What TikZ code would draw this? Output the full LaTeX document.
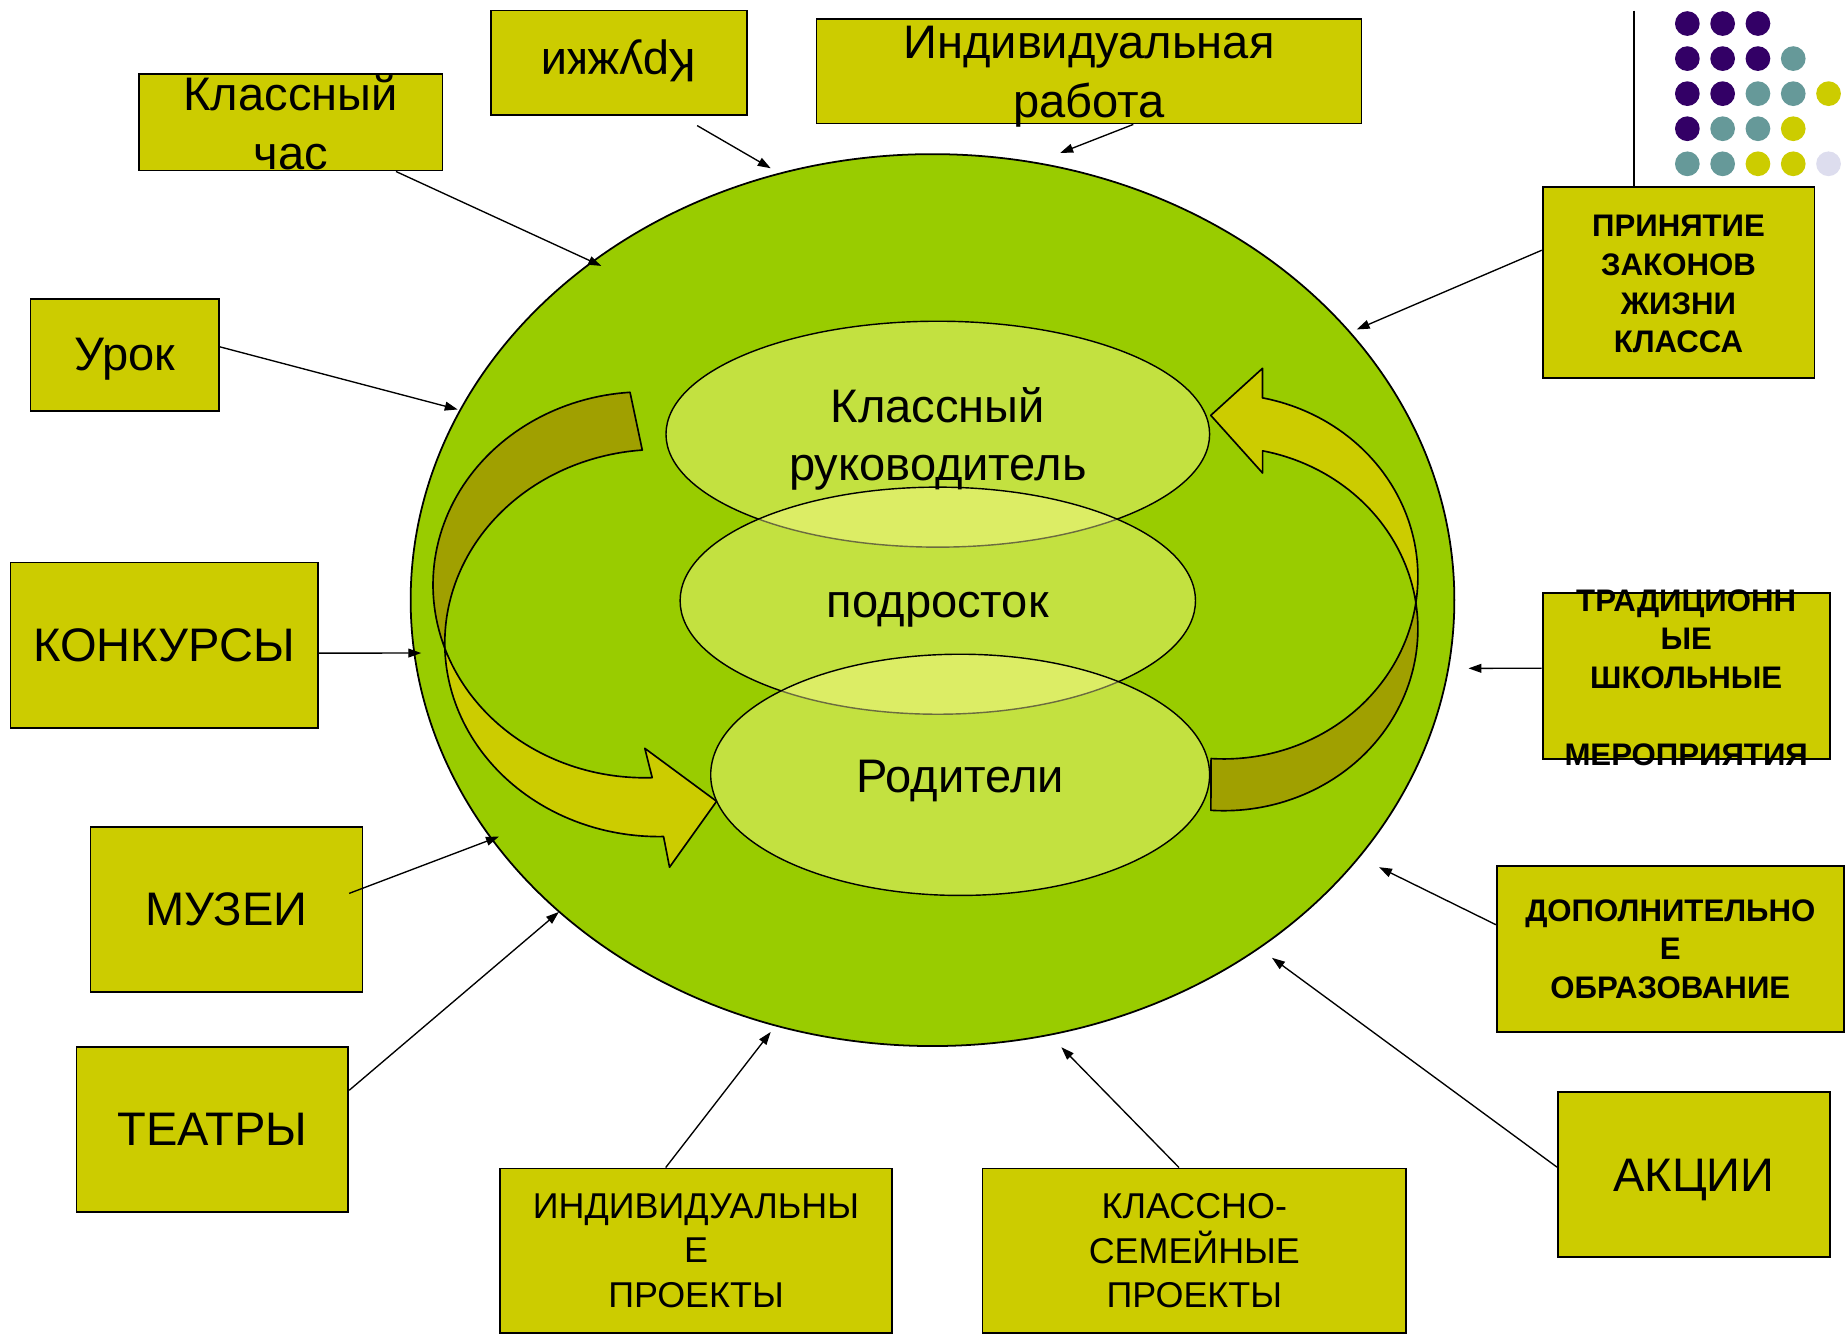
\documentclass[tikz,border=0pt]{standalone}
\usepackage{graphicx}
\usepackage{fontspec}
\setmainfont{Liberation Sans}
\usetikzlibrary{shapes.geometric,arrows.meta,calc}
\definecolor{bggreen}{HTML}{99CC00}
\definecolor{boxy}{HTML}{CCCC00}
\definecolor{darkol}{HTML}{A0A000}
\definecolor{paley}{HTML}{FFFF99}
\definecolor{dpurple}{HTML}{330066}
\definecolor{dteal}{HTML}{669999}
\definecolor{dlav}{HTML}{DDDDEE}
\begin{document}
\begin{tikzpicture}[x=1pt,y=-1pt,
  box/.style={draw=black, line width=1.5pt, fill=boxy, rectangle, inner sep=0pt, align=center, text=black},
  ftext/.style={font=\fontsize{40}{50}\selectfont},
  fmid/.style={font=\fontsize{30.5}{38}\selectfont},
  fbold/.style={font=\fontsize{26.5}{32.8}\selectfont\bfseries},
  lbl/.style={inner sep=0pt, align=center, text=black},
  inell/.style={ellipse, draw=black, line width=1.2pt, fill=paley, fill opacity=0.42, inner sep=0pt},
  conn/.style={draw=black, line width=1.15pt, -{Triangle[length=11pt,width=7.5pt]}},
  arrdark/.style={fill=darkol, draw=black, line width=1.4pt, line join=round},
  arrlight/.style={fill=boxy, draw=black, line width=1.4pt, line join=round}
]
\fill[white] (0,0) rectangle (1568,1139);
\useasboundingbox (0,0) rectangle (1568,1139);

% big ellipse
\node[ellipse, draw=black, line width=1.5pt, fill=bggreen, inner sep=0pt,
      minimum width=887pt, minimum height=758pt] (big) at (792.5,510) {};

% left curved arrow
\filldraw[arrdark]
  plot[domain=0:1, samples=60] ({548+180*cos(266+(161.15-266)*\x)}, {497+164*sin(266+(161.15-266)*\x)})
  -- plot[domain=0:1, samples=60] ({560+182*cos(178.8+(265.6-178.8)*\x)}, {546.5+164.5*sin(178.8+(265.6-178.8)*\x)})
  -- cycle;
\filldraw[arrlight]
  plot[domain=0:1, samples=60] ({560+182*cos(178.8+(88.7-178.8)*\x)}, {546.5+164.5*sin(178.8+(88.7-178.8)*\x)})
  -- (569,737) -- (609,681) -- (548,636)
  -- plot[domain=0:1, samples=60] ({548+180*cos(88+(161.15-88)*\x)}, {497+164*sin(88+(161.15-88)*\x)})
  -- cycle;

% right curved arrow
\filldraw[arrlight]
  plot[domain=0:1, samples=60] ({1040+165*cos(281.5+(368.16-281.5)*\x)}, {490+155*sin(281.5+(368.16-281.5)*\x)})
  -- plot[domain=0:1, samples=60] ({1040+165*cos(351.63+(281.5-351.63)*\x)}, {534.5+154.5*sin(351.63+(281.5-351.63)*\x)})
  -- (1073,402) -- (1029,353) -- (1073,313) -- cycle;
\filldraw[arrdark]
  plot[domain=0:1, samples=60] ({1040+165*cos(8.16+(93.8-8.16)*\x)}, {490+155*sin(8.16+(93.8-8.16)*\x)})
  -- plot[domain=0:1, samples=60] ({1040+165*cos(93.8+(-8.37-93.8)*\x)}, {534.5+154.5*sin(93.8+(-8.37-93.8)*\x)})
  -- cycle;

% inner ellipses
\node[inell, minimum width=462pt, minimum height=192pt] (ruk) at (797,369) {};
\node[inell, minimum width=438pt, minimum height=193pt] (podr) at (797,510.5) {};
\node[inell, minimum width=424pt, minimum height=205pt] (rod) at (816,658.5) {};
\node[lbl, ftext] (rukt) at ([yshift=-4pt]ruk.center) {Классный\\руководитель};
\node[lbl, ftext] (podrt) at ([yshift=-7.5pt]podr.center) {подросток};
\node[lbl, ftext] (rodt) at ([yshift=-5pt]rod.center) {Родители};

% boxes
\node[box, ftext, minimum width=258pt, minimum height=82pt] (klchas) at (247,104) {Классный\\час};
\node[box, minimum width=218pt, minimum height=89pt] (kruzhki) at (526,53.5) {};
\node[lbl, ftext] (kruzhkit) at ([yshift=2pt]kruzhki.center) {\rotatebox{180}{Кружки}};
\node[box, minimum width=463pt, minimum height=89pt] (indrab) at (925.5,60.5) {};
\node[lbl, ftext] (indrabt) at ([yshift=-5pt]indrab.center) {Индивидуальная\\работа};
\node[box, minimum width=160pt, minimum height=95pt] (urok) at (106,301.5) {};
\node[lbl, ftext] (urokt) at ([yshift=-4pt]urok.center) {Урок};
\node[box, ftext, minimum width=261pt, minimum height=141pt] (konk) at (139.5,548.5) {КОНКУРСЫ};
\node[box, ftext, minimum width=231pt, minimum height=140pt] (muzei) at (192.5,773) {МУЗЕИ};
\node[box, ftext, minimum width=231pt, minimum height=140pt] (teatr) at (180.5,960) {ТЕАТРЫ};
\node[box, fmid, minimum width=333pt, minimum height=140pt] (indpr) at (591.5,1063) {ИНДИВИДУАЛЬНЫ\\Е\\ПРОЕКТЫ};
\node[box, fmid, minimum width=360pt, minimum height=140pt] (klsem) at (1015,1063) {КЛАССНО-\\СЕМЕЙНЫЕ\\ПРОЕКТЫ};
\node[box, minimum width=231pt, minimum height=140pt] (akcii) at (1439.5,998) {};
\node[lbl, ftext] (akciit) at ([yshift=-4.5pt]akcii.center) {АКЦИИ};
\node[box, fbold, minimum width=295pt, minimum height=141pt] (dopobr) at (1419.5,806.5) {ДОПОЛНИТЕЛЬНО\\Е\\ОБРАЗОВАНИЕ};
\node[box, minimum width=244pt, minimum height=141pt] (trad) at (1433,574.5) {};
\node[lbl, fbold] (tradt) at ([yshift=-1.5pt]trad.center) {ТРАДИЦИОНН\\ЫЕ\\ШКОЛЬНЫЕ\\\mbox{}\\МЕРОПРИЯТИЯ};
\node[box, minimum width=231pt, minimum height=162pt] (prin) at (1426.5,240) {};
\node[lbl, fbold] (print) at ([yshift=-1.5pt]prin.center) {ПРИНЯТИЕ\\ЗАКОНОВ\\ЖИЗНИ\\КЛАССА};

% arrow end points on the big ellipse
\coordinate (e1) at (511,226);
\coordinate (e2) at (655,143);
\coordinate (e3) at (901,130);
\coordinate (e4) at (1153,280);
\coordinate (e5) at (389,348);
\coordinate (e6) at (358,555);
\coordinate (e7) at (1248,568);
\coordinate (e8) at (424,711);
\coordinate (e9) at (475,775);
\coordinate (e10) at (655,877);
\coordinate (e11) at (902,890);
\coordinate (e12) at (1172,737);
\coordinate (e13) at (1081,814);

% connectors
\draw[conn] ($(klchas.south west)!0.845!(klchas.south east)$) -- (e1);
\draw[conn] ($(kruzhki.south west)!0.803!(kruzhki.south east)+(0,8)$) -- (e2);
\draw[conn] ($(indrab.south west)!0.581!(indrab.south east)$) -- (e3);
\draw[conn] ($(prin.north west)!0.333!(prin.south west)$) -- (e4);
\draw[conn] ($(urok.north east)!0.43!(urok.south east)$) -- (e5);
\draw[conn] ($(konk.north east)!0.546!(konk.south east)$) -- (e6);
\draw[conn] ($(trad.north west)!0.454!(trad.south west)$) -- (e7);
\draw[conn] ($(muzei.north east)+(-12,57)$) -- (e8);
\draw[conn] ($(teatr.north east)!0.264!(teatr.south east)$) -- (e9);
\draw[conn] ($(indpr.north west)!0.423!(indpr.north east)$) -- (e10);
\draw[conn] ($(klsem.north west)!0.464!(klsem.north east)$) -- (e11);
\draw[conn] ($(dopobr.north west)!0.355!(dopobr.south west)$) -- (e12);
\draw[conn] ($(akcii.north west)!0.457!(akcii.south west)$) -- (e13);

% decorative line and dots (top right)
\draw[line width=1.6pt] (1389,9) -- (1389,159);
\foreach \c/\r/\col in {0/0/dpurple,1/0/dpurple,2/0/dpurple,
  0/1/dpurple,1/1/dpurple,2/1/dpurple,3/1/dteal,
  0/2/dpurple,1/2/dpurple,2/2/dteal,3/2/dteal,4/2/boxy,
  0/3/dpurple,1/3/dteal,2/3/dteal,3/3/boxy,
  0/4/dteal,1/4/dteal,2/4/boxy,3/4/boxy,4/4/dlav}
  \fill[\col] ({1434+30*\c},{20+29.8*\r}) circle[radius=10.5pt];
\end{tikzpicture}
\end{document}
